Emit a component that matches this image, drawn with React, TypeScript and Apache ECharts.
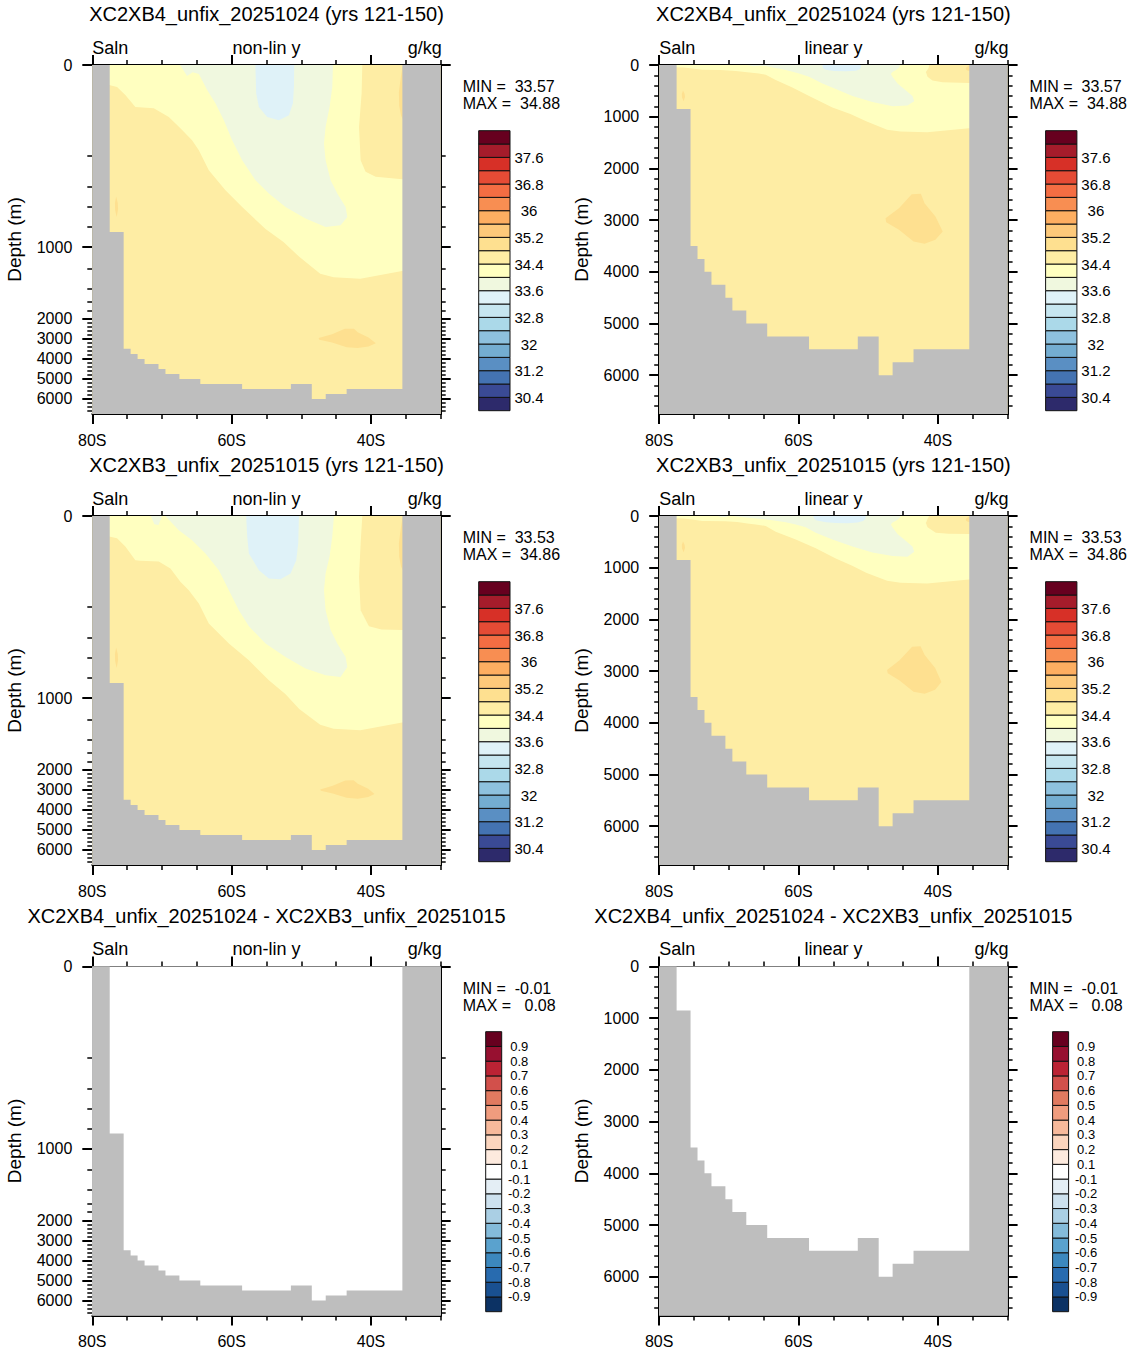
import React, { useEffect, useRef } from "react";
import * as echarts from "echarts";

type Pt = [number, number]; // [latitude (deg, negative = S), depth (m)]

const FONT = "'Liberation Sans', Arial, Helvetica, sans-serif";

// Section extent
const LAT_MIN = -80;
const LAT_MAX = -30;
const DEPTH_MAX = 6750;

// Axis ticks
const LAT_MAJOR = [-80, -60, -40];
const LAT_MINOR = [-75, -70, -65, -55, -50, -45, -35, -30];
const DEPTH_MAJOR = [0, 1000, 2000, 3000, 4000, 5000, 6000];
const DEPTH_MINOR = [
  200, 400, 600, 800, 1200, 1400, 1600, 1800, 2200, 2400, 2600, 2800, 3200, 3400,
  3600, 3800, 4200, 4400, 4600, 4800, 5200, 5400, 5600, 5800, 6200, 6400, 6600,
];

// Model-level coordinate for the "non-lin y" sections (each level gets equal height)
const LEVEL_DEPTH = [0, 200, 400, 600, 800, 1000, 1200, 1400, 1600, 2000, 3000, 4000, 5000, 6000, 6750];
const LEVEL_INDEX = [0, 18.2, 24.34, 28.34, 32.34, 36.34, 40.66, 44.66, 47.34, 50.66, 54.66, 58.66, 62.66, 66.66, 69.66];

// Bottom topography: step edges (deg) and ocean depth between them (m); 0 = land column
const BATHY_EDGE = [-80, -77.5, -75.5, -74.5, -73.5, -72.5, -70.5, -69.5, -67.5, -64.5, -58.5, -51.5, -48.5, -46.5, -43.5, -35.5, -30];
const BATHY_DEPTH = [0, 850, 3500, 3750, 4000, 4250, 4500, 4750, 5000, 5250, 5500, 5250, 6000, 5750, 5500, 0];

// Salinity contour levels (g/kg) and fill colours (lowest band first)
const SALN_LEVELS = [30.4, 30.8, 31.2, 31.6, 32, 32.4, 32.8, 33.2, 33.6, 34, 34.4, 34.8, 35.2, 35.6, 36, 36.4, 36.8, 37.2, 37.6, 38];
const SALN_LABELS = [30.4, 31.2, 32, 32.8, 33.6, 34.4, 35.2, 36, 36.8, 37.6];
const SALN_COLORS = [
  "#2D2A6B", "#3A4A95", "#4473B2", "#5A8FC3", "#74ADD1", "#8EC1DE", "#ABD9E9",
  "#C6E6F0", "#DFF2F8", "#F0F8DF", "#FFFFC0", "#FEEDA4", "#FEE090", "#FDC97A",
  "#FDAE61", "#F88E52", "#F46D43", "#E54B35", "#D73027", "#A51C2B", "#67001F",
];

// Difference contour levels and colours
const DIFF_LEVELS = [-0.9, -0.8, -0.7, -0.6, -0.5, -0.4, -0.3, -0.2, -0.1, 0.1, 0.2, 0.3, 0.4, 0.5, 0.6, 0.7, 0.8, 0.9];
const DIFF_COLORS = [
  "#0C3264", "#195091", "#286BAF", "#3C88BE", "#5AA2CE", "#84BBDA", "#AACFE4",
  "#CDE1EE", "#E4EEF5", "#FFFFFF", "#FDEADE", "#FBD5BE", "#F7B99B", "#F09C7E",
  "#E17A60", "#D2504B", "#BB2334", "#971030", "#67001F",
];

// Run statistics: [XC2XB4, XC2XB3, difference]
const STAT_MIN = [33.57, 33.53, -0.01];
const STAT_MAX = [34.88, 34.86, 0.08];

// XC2XB4: lower edge of the 34.0-34.4 surface layer (west -> east)
const B4_FRESH_EDGE: Pt[] = [
  [-78.5, 44], [-77.6, 44], [-76.45, 48], [-75.26, 66], [-73.82, 92], [-71.18, 95],
  [-69.02, 114], [-67.36, 139], [-65.68, 165], [-64.71, 187], [-63.28, 291], [-60.89, 433],
  [-58.49, 600], [-55.14, 820], [-52.56, 950], [-50.3, 1090], [-47.29, 1250], [-45.37, 1284],
  [-41.54, 1300], [-35.55, 1224], [-34.5, 1220],
];
// XC2XB4: 34.4-34.8 water in the north-east corner
const B4_SALTY_EAST: Pt[] = [
  [-41.25, 0], [-41.35, 62], [-41.72, 136], [-41.49, 226], [-40.78, 302], [-39.34, 334],
  [-35.5, 350], [-34.5, 350], [-34.5, 0],
];
// XC2XB4: 33.6-34.0 patch
const B4_PATCH_33_6: Pt[] = [
  [-67.4, 0], [-66.4, 24], [-65.6, 16], [-64.7, 20], [-63.52, 55], [-62.33, 84], [-61.12, 121],
  [-59.93, 165], [-58.49, 226], [-56.58, 356], [-54.66, 466], [-52.27, 600], [-49.4, 716],
  [-46.52, 800], [-44.37, 783], [-43.4, 700], [-43.65, 600], [-44.84, 466], [-45.8, 356],
  [-46.52, 226], [-46.75, 172], [-46.52, 136], [-45.95, 92], [-45.56, 48], [-45.46, 0],
];
// XC2XB4: 33.2-33.6 patch
const B4_PATCH_33_2: Pt[] = [
  [-56.6, 0], [-56.48, 62], [-56.09, 92], [-54.9, 114], [-53.22, 121], [-51.78, 110],
  [-51.21, 84], [-51.06, 48], [-51.02, 0],
];
// XC2XB4: deep 34.8-35.2 patch
const B4_PATCH_34_8_DEEP: Pt[] = [
  [-47.52, 2962], [-45.59, 2769], [-43.76, 2498], [-42.45, 2492], [-41.92, 2672], [-40.36, 2930],
  [-39.31, 3220], [-40.36, 3380], [-41.92, 3458], [-43.49, 3413], [-45.59, 3187], [-47.42, 3040],
];

// XC2XB3 counterparts
const B3_FRESH_EDGE: Pt[] = [
  [-78.5, 45], [-77.6, 45], [-76.45, 49], [-75.26, 67], [-73.82, 97], [-73.1, 98], [-70.46, 100],
  [-68.79, 115], [-67.36, 144], [-66.15, 163], [-64.71, 192], [-63.28, 306], [-60.4, 456],
  [-57.53, 623], [-54.66, 823], [-52.3, 960], [-50.3, 1100], [-47.29, 1250], [-45.37, 1290],
  [-41.54, 1305], [-35.55, 1228], [-34.5, 1224],
];
const B3_SALTY_EAST: Pt[] = [
  [-41.25, 0], [-41.49, 60], [-41.72, 133], [-41.49, 220], [-40.3, 324], [-38.5, 345],
  [-35.5, 349], [-34.5, 349], [-34.5, 0],
];
const B3_PATCH_33_6: Pt[] = [
  [-69.51, 0], [-67.59, 31], [-65.68, 53], [-63.76, 82], [-61.84, 119], [-60.4, 163],
  [-58.97, 220], [-57.53, 324], [-55.14, 456], [-52.27, 590], [-49.4, 706], [-46.52, 773],
  [-44.37, 790], [-43.4, 690], [-43.65, 590], [-44.84, 456], [-45.8, 349], [-46.52, 220],
  [-46.75, 163], [-46.52, 126], [-45.95, 89], [-45.56, 45], [-45.32, 0],
];
const B3_PATCH_33_6_WEST: Pt[] = [[-71.6, 0], [-71.1, 18], [-70.5, 20], [-70.0, 0]];
const B3_PATCH_33_2: Pt[] = [
  [-57.92, 0], [-57.77, 45], [-57.53, 82], [-56.09, 119], [-54.66, 137], [-52.99, 139],
  [-51.55, 126], [-50.73, 97], [-50.44, 60], [-50.34, 0],
];
const B3_PATCH_34_8_DEEP: Pt[] = [
  [-47.3, 2980], [-45.5, 2790], [-43.7, 2530], [-42.5, 2520], [-41.9, 2690], [-40.4, 2940],
  [-39.5, 3210], [-40.4, 3360], [-41.9, 3440], [-43.5, 3400], [-45.5, 3180], [-47.2, 3040],
];

// Small 34.8-35.2 patches common to both runs
const PATCH_34_8_EAST: Pt[] = [
  [-35.5, 5], [-35.75, 30], [-36.0, 60], [-35.95, 90], [-35.7, 110], [-35.5, 118], [-34.5, 118], [-34.5, 5],
];
const PATCH_34_8_WEST: Pt[] = [
  [-76.58, 495], [-76.35, 560], [-76.3, 620], [-76.5, 700], [-76.72, 630], [-76.75, 560],
];

const TITLE_B4 = "XC2XB4_unfix_20251024 (yrs 121-150)";
const TITLE_B3 = "XC2XB3_unfix_20251015 (yrs 121-150)";
const TITLE_DIFF = "XC2XB4_unfix_20251024 - XC2XB3_unfix_20251015";

// Page layout
const COL_LEFT = [92.3, 659.2];
const ROW_TOP = [65, 516, 966.5];
const PLOT_W = 348.4;
const PLOT_H = 349;

type Region = { pts: Pt[]; color: string };
type Kind = "B4" | "B3" | "diff";

const OCEAN_BOX: Pt[] = [[LAT_MIN, 0], [LAT_MAX, 0], [LAT_MAX, DEPTH_MAX], [LAT_MIN, DEPTH_MAX]];

function salnColor(v: number) {
  return SALN_COLORS[SALN_LEVELS.filter((l) => l <= v).length];
}
function diffColor(v: number) {
  return DIFF_COLORS[DIFF_LEVELS.filter((l) => l <= v).length];
}

function toLevel(d: number) {
  for (let i = 1; i < LEVEL_DEPTH.length; i++) {
    if (d <= LEVEL_DEPTH[i]) {
      const f = (d - LEVEL_DEPTH[i - 1]) / (LEVEL_DEPTH[i] - LEVEL_DEPTH[i - 1]);
      return LEVEL_INDEX[i - 1] + f * (LEVEL_INDEX[i] - LEVEL_INDEX[i - 1]);
    }
  }
  return LEVEL_INDEX[LEVEL_INDEX.length - 1];
}
const identity = (d: number) => d;

// surface layer polygon: from the surface down to its lower edge
function surfaceLayer(edge: Pt[]): Pt[] {
  return [[edge[0][0], 0], ...edge, [edge[edge.length - 1][0], 0]];
}

function regionsFor(kind: Kind): Region[] {
  if (kind === "diff") return [{ pts: OCEAN_BOX, color: diffColor(0) }];
  const b4 = kind === "B4";
  const list: Region[] = [
    { pts: OCEAN_BOX, color: salnColor(34.6) },
    { pts: surfaceLayer(b4 ? B4_FRESH_EDGE : B3_FRESH_EDGE), color: salnColor(34.2) },
    { pts: b4 ? B4_SALTY_EAST : B3_SALTY_EAST, color: salnColor(34.6) },
    { pts: b4 ? B4_PATCH_33_6 : B3_PATCH_33_6, color: salnColor(33.8) },
  ];
  if (!b4) list.push({ pts: B3_PATCH_33_6_WEST, color: salnColor(33.8) });
  list.push(
    { pts: b4 ? B4_PATCH_33_2 : B3_PATCH_33_2, color: salnColor(33.4) },
    { pts: b4 ? B4_PATCH_34_8_DEEP : B3_PATCH_34_8_DEEP, color: salnColor(35.0) },
    { pts: PATCH_34_8_EAST, color: salnColor(35.0) },
    { pts: PATCH_34_8_WEST, color: salnColor(35.0) }
  );
  return list;
}

function landPolygon(): Pt[] {
  const pts: Pt[] = [[LAT_MIN, DEPTH_MAX]];
  for (let i = 0; i < BATHY_DEPTH.length; i++) {
    pts.push([BATHY_EDGE[i], BATHY_DEPTH[i]], [BATHY_EDGE[i + 1], BATHY_DEPTH[i]]);
  }
  pts.push([LAT_MAX, DEPTH_MAX]);
  return pts;
}

const PANELS: { row: number; col: number; kind: Kind; nlin: boolean }[] = [
  { row: 0, col: 0, kind: "B4", nlin: true },
  { row: 0, col: 1, kind: "B4", nlin: false },
  { row: 1, col: 0, kind: "B3", nlin: true },
  { row: 1, col: 1, kind: "B3", nlin: false },
  { row: 2, col: 0, kind: "diff", nlin: true },
  { row: 2, col: 1, kind: "diff", nlin: false },
];
const ROW_TITLES = [TITLE_B4, TITLE_B3, TITLE_DIFF];

const BLACK = "#000";

function buildOption() {
  const grid: any[] = [];
  const xAxis: any[] = [];
  const yAxis: any[] = [];
  const series: any[] = [];
  const graphic: any[] = [];
  const land = landPolygon();

  PANELS.forEach((p, pi) => {
    const left = COL_LEFT[p.col];
    const top = ROW_TOP[p.row];
    const gi = grid.length;
    grid.push({ left, top, width: PLOT_W, height: PLOT_H, outerBoundsMode: "none" });
    const toY = p.nlin ? toLevel : identity;
    const yMax = toY(DEPTH_MAX);

    const xBase = {
      type: "value", gridIndex: gi, min: LAT_MIN, max: LAT_MAX,
      splitLine: { show: false }, axisPointer: { show: false },
    };
    const line = { show: true, onZero: false, lineStyle: { color: BLACK, width: 2 } };
    const noLine = { show: false, onZero: false };
    const majTick = (vals: number[]) => ({ show: true, customValues: vals, length: 10, lineStyle: { color: BLACK, width: 2 } });
    const minTick = (vals: number[]) => ({ show: true, customValues: vals, length: 5, lineStyle: { color: BLACK, width: 1.5 } });
    const xIdx = xAxis.length;
    xAxis.push(
      {
        ...xBase, position: "bottom", axisLine: line, axisTick: majTick(LAT_MAJOR),
        axisLabel: {
          show: true, customValues: LAT_MAJOR, margin: 18, fontSize: 16, color: BLACK, fontFamily: FONT,
          formatter: (v: number) => `${Math.abs(Math.round(v))}S`,
        },
      },
      { ...xBase, position: "bottom", axisLine: noLine, axisTick: minTick(LAT_MINOR), axisLabel: { show: false } },
      { ...xBase, position: "top", axisLine: line, axisTick: majTick(LAT_MAJOR), axisLabel: { show: false } },
      { ...xBase, position: "top", axisLine: noLine, axisTick: minTick(LAT_MINOR), axisLabel: { show: false } }
    );

    const majVals = DEPTH_MAJOR.map(toY);
    const minVals = DEPTH_MINOR.map(toY);
    const yBase = {
      type: "value", gridIndex: gi, min: 0, max: yMax, inverse: true,
      splitLine: { show: false }, axisPointer: { show: false },
    };
    const yIdx = yAxis.length;
    yAxis.push(
      {
        ...yBase, position: "left", axisLine: line, axisTick: majTick(majVals),
        axisLabel: {
          show: true, customValues: majVals, margin: 20, fontSize: 16, color: BLACK, fontFamily: FONT,
          formatter: (v: number) => {
            const i = majVals.findIndex((m) => Math.abs(m - v) < 1e-3);
            return i >= 0 ? String(DEPTH_MAJOR[i]) : "";
          },
        },
        name: "Depth (m)", nameLocation: "middle", nameGap: 68, nameRotate: 90,
        nameTextStyle: { fontSize: 19, color: BLACK, fontFamily: FONT },
      },
      { ...yBase, position: "left", axisLine: noLine, axisTick: minTick(minVals), axisLabel: { show: false } },
      { ...yBase, position: "right", axisLine: line, axisTick: majTick(majVals), axisLabel: { show: false } },
      { ...yBase, position: "right", axisLine: noLine, axisTick: minTick(minVals), axisLabel: { show: false } }
    );

    const regions = regionsFor(p.kind);
    series.push({
      type: "custom", xAxisIndex: xIdx, yAxisIndex: yIdx, silent: true, z: 2,
      data: regions.map((r) => [r.pts[0][0], toY(r.pts[0][1])]),
      renderItem: (params: any, api: any) => {
        const r = regions[params.dataIndex];
        return {
          type: "polygon",
          shape: { points: r.pts.map(([lat, d]) => api.coord([lat, toY(d)])) },
          style: { fill: r.color, stroke: null },
        };
      },
    });
    series.push({
      type: "custom", xAxisIndex: xIdx, yAxisIndex: yIdx, silent: true, z: 3,
      data: [[LAT_MIN, 0]],
      renderItem: (_params: any, api: any) => ({
        type: "polygon",
        shape: { points: land.map(([lat, d]) => api.coord([lat, toY(d)])) },
        style: { fill: "#BEBEBE", stroke: null },
      }),
    });

    // Colour bar
    const isDiff = p.kind === "diff";
    const colors = isDiff ? DIFF_COLORS : SALN_COLORS;
    const levels = isDiff ? DIFF_LEVELS : SALN_LEVELS;
    const shown = isDiff ? DIFF_LEVELS : SALN_LABELS;
    const bi = grid.length;
    grid.push({
      left: left + (isDiff ? 393.4 : 386.4), top: top + (isDiff ? 65.2 : 65.7),
      width: isDiff ? 16 : 31.3, height: 280, outerBoundsMode: "none",
    });
    const bx = xAxis.length;
    xAxis.push({ type: "value", gridIndex: bi, min: 0, max: 1, show: false });
    const by = yAxis.length;
    const labelIdx = shown.map((v) => levels.indexOf(v) + 1);
    yAxis.push({
      type: "value", gridIndex: bi, min: 0, max: colors.length, position: "right",
      axisLine: { show: false }, axisTick: { show: false }, splitLine: { show: false },
      axisLabel: {
        show: true, customValues: labelIdx, align: "center", margin: isDiff ? 17.5 : 19,
        fontSize: isDiff ? 13 : 15, color: BLACK, fontFamily: FONT,
        formatter: (v: number) => {
          const k = Math.round(v);
          return k >= 1 && k <= levels.length ? String(levels[k - 1]) : "";
        },
      },
    });
    series.push({
      type: "custom", xAxisIndex: bx, yAxisIndex: by, silent: true, z: 2,
      data: colors.map((_c, i) => [0, i]),
      renderItem: (params: any, api: any) => {
        const i = params.dataIndex;
        const a = api.coord([0, i]);
        const b = api.coord([1, i + 1]);
        return {
          type: "rect",
          shape: { x: a[0], y: b[1], width: b[0] - a[0], height: a[1] - b[1] },
          style: { fill: colors[i], stroke: "#111", lineWidth: 1 },
        };
      },
    });

    // Texts
    const cx = left + PLOT_W / 2;
    const txt = (text: string, x: number, y: number, size: number, align: string) => ({
      type: "text", x, y, silent: true,
      style: { text, fontSize: size, fontFamily: FONT, fill: BLACK, align, verticalAlign: "middle" },
    });
    const stat = (lab: string, v: number) =>
      `${lab} = ${v.toFixed(2).padStart(6, " ")}`.replace(/ /g, "\u00A0");
    graphic.push(
      txt(ROW_TITLES[p.row], cx, top - 51, 20, "center"),
      txt("Saln", left, top - 17.5, 18, "left"),
      txt(p.nlin ? "non-lin y" : "linear y", cx, top - 17.5, 18, "center"),
      txt("g/kg", left + PLOT_W + 1, top - 17.5, 18, "right"),
      txt(stat("MIN", STAT_MIN[p.row]), left + PLOT_W + 22, top + 21.5, 16, "left"),
      txt(stat("MAX", STAT_MAX[p.row]), left + PLOT_W + 22, top + 38.5, 16, "left")
    );
    void pi;
  });

  return {
    animation: false,
    backgroundColor: "#ffffff",
    textStyle: { fontFamily: FONT },
    grid, xAxis, yAxis, series, graphic,
  };
}

export default function App() {
  const ref = useRef<HTMLDivElement>(null);
  useEffect(() => {
    if (!ref.current) return;
    const chart = echarts.init(ref.current, undefined, { renderer: "svg" });
    chart.setOption(buildOption() as any);
    return () => chart.dispose();
  }, []);
  return (
    <div
      ref={ref}
      style={{ position: "absolute", left: 0, top: 0, width: 1131, height: 1354, background: "#fff" }}
    />
  );
}
